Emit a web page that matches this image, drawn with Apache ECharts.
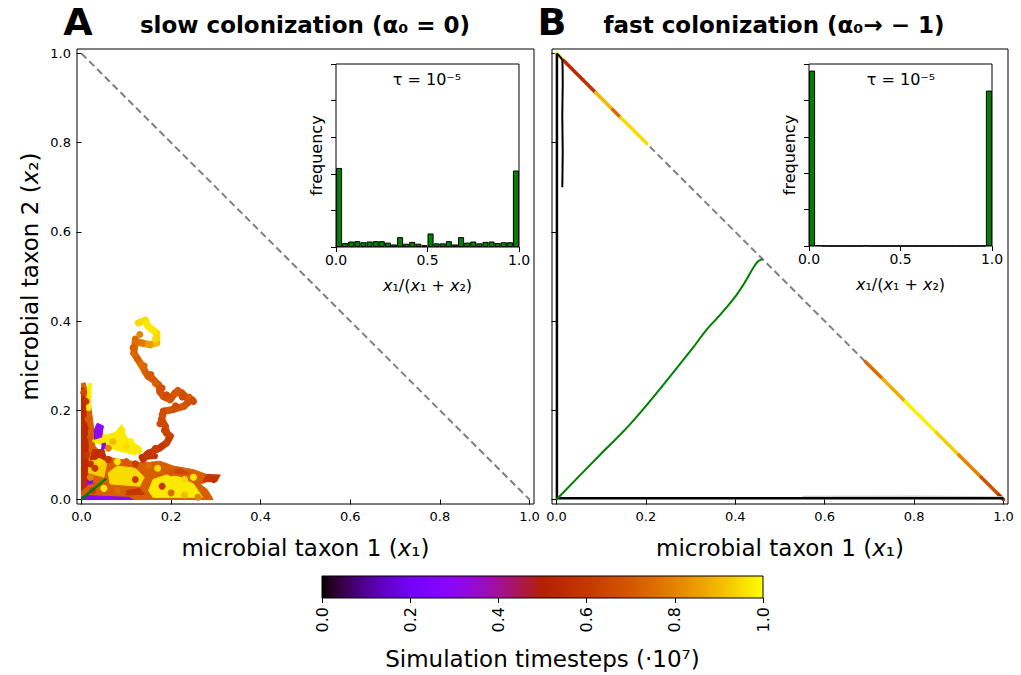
<!DOCTYPE html>
<html><head><meta charset="utf-8">
<script src="https://cdn.jsdelivr.net/npm/echarts@6/dist/echarts.min.js"></script>
<style>html,body{margin:0;padding:0;background:#fff}#c{width:1021px;height:675px}</style>
</head><body><div id="c"></div>
<script>
// ---------- data ----------
const mainTicks = [0, 0.2, 0.4, 0.6, 0.8, 1.0];
const insetTicks = [0, 0.5, 1.0];
const cbarTicks = [0, 0.2, 0.4, 0.6, 0.8, 1.0];
const histBins = Array.from({length: 30}, (_, i) => String(i));
const histA = [2.16,0.11,0.15,0.16,0.13,0.15,0.16,0.16,0.12,0.07,0.27,0.09,0.14,0.09,0.05,0.37,0.10,0.10,0.16,0.07,0.27,0.12,0.15,0.10,0.14,0.15,0.11,0.13,0.13,2.09];
const histB = [4.82,0.02,0.005,0,0,0,0,0,0,0.01,0,0,0,0,0,0,0,0,0,0,0,0,0,0,0,0,0,0,0.005,4.27];
const diagonal = [[0,1],[1,0]];

// panel A: filled patches of the trajectory cloud, t = simulation time (x1e7)
const cloudA = [
  {t:0.72, pts:[[0,0],[0.294,0],[0.28,0.023],[0.265,0.034],[0.28,0.04],[0.302,0.04],[0.308,0.052],[0.28,0.056],[0.25,0.067],[0.205,0.075],[0.175,0.086],[0.138,0.082],[0.086,0.09],[0.049,0.097],[0.03,0.12],[0.026,0.17],[0.019,0.22],[0.008,0.262],[0,0.26]]},
  {t:0.97, pts:[[0.16,0.005],[0.27,0.005],[0.26,0.02],[0.25,0.035],[0.22,0.05],[0.19,0.055],[0.16,0.045],[0.15,0.02]]},
  {t:0.95, pts:[[0.064,0.035],[0.13,0.03],[0.14,0.05],[0.12,0.07],[0.08,0.075],[0.06,0.06]]},
  {t:0.97, pts:[[0.025,0.13],[0.05,0.12],[0.08,0.11],[0.12,0.1],[0.135,0.115],[0.12,0.125],[0.1,0.14],[0.09,0.168],[0.075,0.15],[0.055,0.145],[0.04,0.15],[0.03,0.16]]},
  {t:0.93, pts:[[0.015,0.06],[0.05,0.05],[0.056,0.08],[0.04,0.1],[0.02,0.1]]},
  {t:0.98, pts:[[0.01,0.2],[0.02,0.2],[0.022,0.26],[0.015,0.26]]},
  {t:0.55, pts:[[0,0.02],[0.012,0.03],[0.015,0.12],[0.01,0.2],[0.004,0.25],[0,0.25]]},
  {t:0.56, pts:[[0.019,0.09],[0.056,0.09],[0.05,0.112],[0.025,0.112]]},
  {t:0.58, pts:[[0.138,0.09],[0.168,0.092],[0.17,0.1],[0.15,0.108]]},
  {t:0.6, pts:[[0.27,0.04],[0.3,0.042],[0.31,0.055],[0.28,0.056]]},
  {t:0.6, pts:[[0.1,0.01],[0.14,0.012],[0.13,0.025],[0.1,0.02]]},
  {t:0.65, pts:[[0.19,0.06],[0.24,0.058],[0.22,0.07]]},
  {t:0.3, pts:[[0.028,0.135],[0.045,0.14],[0.049,0.165],[0.035,0.171],[0.028,0.155]]},
  {t:0.3, pts:[[0.045,0.112],[0.056,0.115],[0.053,0.127],[0.046,0.125]]},
  {t:0.3, pts:[[0.012,0.034],[0.026,0.036],[0.024,0.044],[0.013,0.043]]},
  {t:0.3, pts:[[0,0],[0.115,0],[0.105,0.005],[0.05,0.007],[0.01,0.009],[0,0.006]]}
];
// panel A: the long wandering strand [x1, x2, t]
const strandA = [[0.127,0.396,0.95],[0.142,0.402,0.95],[0.149,0.388,0.97],[0.168,0.373,0.95],[0.168,0.351,0.9],[0.153,0.347,0.85],[0.135,0.351,0.78],[0.12,0.354,0.75],[0.117,0.328,0.74],[0.131,0.306,0.75],[0.142,0.287,0.72],[0.149,0.276,0.72],[0.16,0.269,0.7],[0.172,0.257,0.7],[0.175,0.242,0.68],[0.183,0.231,0.68],[0.198,0.224,0.7],[0.209,0.239,0.7],[0.224,0.239,0.68],[0.235,0.228,0.68],[0.246,0.224,0.68],[0.228,0.209,0.7],[0.205,0.202,0.68],[0.183,0.198,0.66],[0.179,0.179,0.66],[0.187,0.164,0.66],[0.19,0.149,0.64],[0.198,0.142,0.64],[0.19,0.127,0.63],[0.175,0.116,0.62],[0.16,0.108,0.62],[0.146,0.101,0.6],[0.138,0.09,0.6]];
// panel A: scattered specks around the cloud [x1, x2, t]
const specksA = [[0.12,0.36,0.75],[0.13,0.37,0.8],[0.145,0.395,0.97],[0.16,0.38,0.97],[0.165,0.36,0.95],[0.115,0.34,0.72],[0.125,0.315,0.72],[0.14,0.3,0.74],[0.155,0.28,0.7],[0.165,0.26,0.72],[0.18,0.25,0.68],[0.19,0.235,0.66],[0.2,0.23,0.68],[0.215,0.245,0.7],[0.225,0.23,0.66],[0.24,0.23,0.7],[0.25,0.22,0.66],[0.21,0.21,0.66],[0.195,0.2,0.7],[0.18,0.19,0.68],[0.175,0.17,0.66],[0.185,0.155,0.64],[0.195,0.135,0.62],[0.18,0.12,0.6],[0.165,0.115,0.62],[0.15,0.105,0.6],[0.135,0.095,0.58],
  [0.25,0.05,0.97],[0.23,0.045,0.95],[0.2,0.06,0.7],[0.17,0.07,0.95],[0.15,0.075,0.75],[0.12,0.08,0.62],[0.1,0.085,0.7],[0.08,0.085,0.97],[0.06,0.09,0.6],[0.04,0.085,0.95],[0.03,0.07,0.6],[0.02,0.05,0.8],[0.025,0.02,0.62],[0.05,0.025,0.97],[0.08,0.02,0.75],[0.12,0.045,0.62],[0.18,0.03,0.6],[0.2,0.015,0.75],[0.23,0.01,0.9],[0.26,0.005,0.8],[0.285,0.05,0.6],[0.295,0.045,0.58],[0.1,0.12,0.95],[0.11,0.13,0.98],[0.09,0.155,0.97],[0.07,0.13,0.9],[0.06,0.115,0.8],[0.128,0.11,0.97],
  [0.005,0.24,0.65],[0.01,0.22,0.6],[0.015,0.18,0.72],[0.008,0.16,0.55],[0.02,0.14,0.7],[0.012,0.1,0.6],[0.02,0.08,0.58]];
const greenA = [[0,0],[0.02,0.018],[0.04,0.034],[0.055,0.047]];

// panel B
const greenB = [[0,0],[0.097,0.1],[0.174,0.179],[0.302,0.336],[0.336,0.381],[0.366,0.414],[0.403,0.459],[0.425,0.493],[0.44,0.519],[0.451,0.534],[0.461,0.539]];
const blackB1 = [[0.001,0],[0.001,1.0]];
const blackB2 = [[0.001,1.0],[0.013,0.985],[0.014,0.93],[0.013,0.86],[0.014,0.78],[0.013,0.7]];
const blackB3 = [[0,0.003],[1,0.003]];
const grayB = [[0.55,0.006],[0.8,0.007],[1,0.005]];
const diagUpperB = [[0,1,0.97],[0.016,0.984,0.55],[0.06,0.94,0.58],[0.088,0.912,0.9],[0.126,0.874,0.75],[0.144,0.856,0.95],[0.202,0.798,0.95]];
const diagLowerB = [[0.691,0.309,0.75],[0.73,0.27,0.88],[0.78,0.22,0.98],[0.85,0.15,0.93],[0.9,0.1,0.8],[0.95,0.05,0.68],[0.99,0.01,0.55],[1.0,0.0,0.3]];

// ---------- helpers ----------
const FF = 'DejaVu Sans';
function cmap(t){ // matplotlib "gnuplot" colormap
  const r = Math.sqrt(t), g = t*t*t, b = Math.max(0, Math.sin(2*Math.PI*t));
  return 'rgb(' + Math.round(255*r) + ',' + Math.round(255*g) + ',' + Math.round(255*b) + ')';
}
const cbarStops = [];
for (let i = 0; i <= 60; i++) cbarStops.push({offset: i/60, color: cmap(i/60)});

function patchSeries(patches, gi){
  return {type:'custom', xAxisIndex:gi, yAxisIndex:gi, silent:true, z:3,
    data: patches.map(p => p.pts[0]),
    renderItem: (params, api) => {
      const p = patches[params.dataIndex];
      return {type:'polygon', shape:{points: p.pts.map(q => api.coord(q))}, style:{fill: cmap(p.t), stroke: cmap(p.t), lineWidth: 1}};
    }};
}
function segSeries(pts, gi, width){
  return {type:'custom', xAxisIndex:gi, yAxisIndex:gi, silent:true, z:4,
    data: pts.slice(0, pts.length-1),
    renderItem: (params, api) => {
      const a = pts[params.dataIndex], b = pts[params.dataIndex+1];
      const p1 = api.coord([a[0],a[1]]), p2 = api.coord([b[0],b[1]]);
      return {type:'line', shape:{x1:p1[0],y1:p1[1],x2:p2[0],y2:p2[1]}, style:{stroke: cmap(a[2]), lineWidth: width, lineCap:'round'}};
    }};
}
function speckSeries(pts, gi){
  return {type:'scatter', xAxisIndex:gi, yAxisIndex:gi, silent:true, z:4, data: pts, symbolSize:7,
    itemStyle:{opacity:1, color: p => cmap(p.value[2])}};
}
function lineSeries(data, gi, color, width, dash, smooth){
  return {type:'line', xAxisIndex:gi, yAxisIndex:gi, data, showSymbol:false, silent:true, z: dash ? 2 : 5,
    smooth: smooth || false,
    lineStyle:{color, width, type: dash ? [7,4] : 'solid'}};
}

function mainX(gi){
  return {type:'value', gridIndex:gi, min:-0.01, max:1.01, position:'bottom',
    axisLine:{show:false}, splitLine:{show:false},
    axisTick:{show:true, customValues: mainTicks, length:5, lineStyle:{color:'#000'}},
    axisLabel:{customValues: mainTicks, formatter: v => v.toFixed(1), fontSize:13, color:'#000', fontFamily:FF, margin:6},
    name:'microbial taxon 1 ({i|x}₁)', nameLocation:'middle', nameGap:32,
    nameTextStyle:{fontSize:23, color:'#000', fontFamily:FF, rich:{i:{fontStyle:'italic', fontSize:23, fontFamily:FF}}}};
}
function mainY(gi, labels){
  const ax = {type:'value', gridIndex:gi, min:-0.01, max:1.01, position:'left',
    axisLine:{show:false}, splitLine:{show:false},
    axisTick:{show:true, customValues: mainTicks, length:5, lineStyle:{color:'#000'}},
    axisLabel:{show:labels, customValues: mainTicks, formatter: v => v.toFixed(1), fontSize:13, color:'#000', fontFamily:FF, margin:6}};
  if (labels) {
    ax.name = 'microbial taxon 2 ({i|x}₂)'; ax.nameLocation = 'middle'; ax.nameGap = 36;
    ax.nameTextStyle = {fontSize:23, color:'#000', fontFamily:FF, rich:{i:{fontStyle:'italic', fontSize:23, fontFamily:FF}}};
  }
  return ax;
}
function insetCat(gi){
  return {type:'category', gridIndex:gi, data: histBins, show:false, boundaryGap:true, position:'bottom'};
}
function insetX(gi){
  return {type:'value', gridIndex:gi, min:0, max:1, interval:0.5, position:'bottom', offset:0,
    axisLine:{show:false}, splitLine:{show:false},
    axisTick:{show:true, length:5, lineStyle:{color:'#000'}},
    axisLabel:{formatter: v => v.toFixed(1), fontSize:14, color:'#000', fontFamily:FF, margin:6},
    name:'{i|x}₁/({i|x}₁ + {i|x}₂)', nameLocation:'middle', nameGap:30,
    nameTextStyle:{fontSize:16, color:'#000', fontFamily:FF, rich:{i:{fontStyle:'italic', fontSize:16, fontFamily:FF}}}};
}
function insetY(gi){
  return {type:'value', gridIndex:gi, min:0, max:5, interval:1, position:'left',
    axisLine:{show:false}, splitLine:{show:false},
    axisTick:{show:true, length:5, lineStyle:{color:'#000'}},
    axisLabel:{show:false},
    name:'frequency', nameLocation:'middle', nameGap:12,
    nameTextStyle:{fontSize:16, color:'#000', fontFamily:FF}};
}
function histSeries(data, xi, yi){
  return {type:'bar', xAxisIndex:xi, yAxisIndex:yi, data, barCategoryGap:'0%', silent:true, z:6,
    itemStyle:{color:'#008000', borderColor:'#000', borderWidth:1}};
}

const chart = echarts.init(document.getElementById('c'), null, {renderer:'svg'});
const gridBase = {show:true, borderColor:'#000', borderWidth:1, outerBoundsMode:'none', containLabel:false};
chart.setOption({
  animation:false,
  backgroundColor:'#fff',
  textStyle:{fontFamily:FF},
  grid:[
    Object.assign({left:77, top:49, width:457, height:455, backgroundColor:'transparent'}, gridBase),
    Object.assign({left:552, top:49, width:456, height:455, backgroundColor:'transparent'}, gridBase),
    Object.assign({left:336, top:64, width:183, height:183, backgroundColor:'#fff'}, gridBase),
    Object.assign({left:809, top:64, width:183, height:182, backgroundColor:'#fff'}, gridBase),
    Object.assign({left:322, top:576, width:441, height:22,
      backgroundColor:{type:'linear', x:0, y:0, x2:1, y2:0, colorStops: cbarStops}}, gridBase)
  ],
  xAxis:[
    mainX(0), mainX(1),
    insetCat(2), insetX(2),
    insetCat(3), insetX(3),
    {type:'value', gridIndex:4, min:0, max:1, interval:0.2, position:'bottom',
      axisLine:{show:false}, splitLine:{show:false},
      axisTick:{show:true, length:5, lineStyle:{color:'#000'}},
      axisLabel:{rotate:90, formatter: v => v.toFixed(1), fontSize:16, color:'#000', fontFamily:FF, margin:9},
      name:'Simulation timesteps (·10⁷)', nameLocation:'middle', nameGap:49,
      nameTextStyle:{fontSize:23, color:'#000', fontFamily:FF}}
  ],
  yAxis:[
    mainY(0, true), mainY(1, false),
    insetY(2), insetY(3),
    {type:'value', gridIndex:4, min:0, max:1, show:false}
  ],
  graphic:[
    {type:'text', x:78, y:22, style:{text:'A', font:'bold 38px "DejaVu Sans"', fill:'#000', align:'center', verticalAlign:'middle'}},
    {type:'text', x:305, y:25, style:{text:'slow colonization (α₀ = 0)', font:'bold 23px "DejaVu Sans"', fill:'#000', align:'center', verticalAlign:'middle'}},
    {type:'text', x:552, y:22, style:{text:'B', font:'bold 38px "DejaVu Sans"', fill:'#000', align:'center', verticalAlign:'middle'}},
    {type:'text', x:774, y:25, style:{text:'fast colonization (α₀→ − 1)', font:'bold 23px "DejaVu Sans"', fill:'#000', align:'center', verticalAlign:'middle'}},
    {type:'text', x:427, y:79, z:100, style:{text:'τ = 10⁻⁵', font:'16px "DejaVu Sans"', fill:'#000', align:'center', verticalAlign:'middle'}},
    {type:'text', x:901, y:79, z:100, style:{text:'τ = 10⁻⁵', font:'16px "DejaVu Sans"', fill:'#000', align:'center', verticalAlign:'middle'}}
  ],
  series:[
    lineSeries(diagonal, 0, '#808080', 2, true),
    lineSeries(diagonal, 1, '#808080', 2, true),
    patchSeries(cloudA, 0),
    segSeries(strandA, 0, 7),
    speckSeries(specksA, 0),
    lineSeries(greenA, 0, '#008000', 2.5),
    lineSeries(grayB, 1, '#cfcfcf', 2),
    lineSeries(blackB1, 1, '#000', 2.5),
    lineSeries(blackB2, 1, '#000', 2, false, 0.2),
    lineSeries(blackB3, 1, '#000', 2.5),
    segSeries(diagUpperB, 1, 3.5),
    segSeries(diagLowerB, 1, 3.5),
    lineSeries(greenB, 1, '#008000', 2, false, 0.4),
    histSeries(histA, 2, 2),
    histSeries(histB, 4, 3)
  ]
});
</script></body></html>
